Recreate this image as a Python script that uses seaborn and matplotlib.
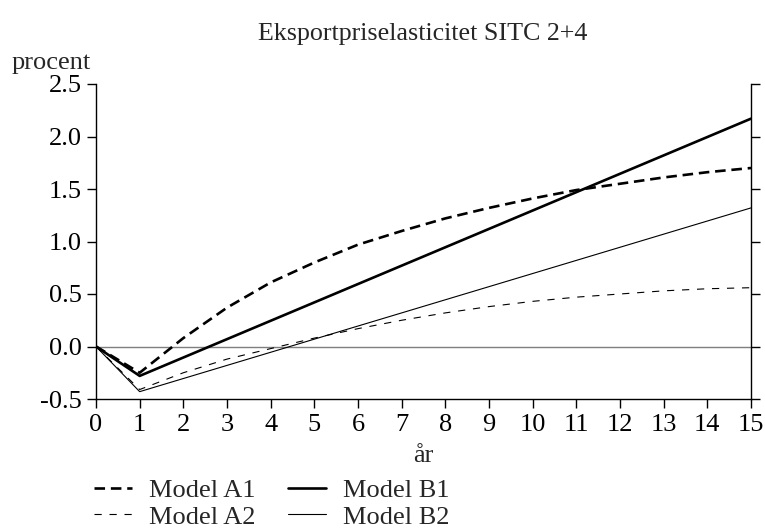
import numpy as np
import pandas as pd
import matplotlib
matplotlib.use("Agg")
import matplotlib.pyplot as plt
import seaborn as sns

# ---- data ----
years = list(range(16))
model_a1 = [0.0, -0.25, 0.08, 0.37, 0.61, 0.80, 0.97, 1.10, 1.22, 1.32, 1.41, 1.49, 1.55, 1.61, 1.66, 1.70]
model_a2 = [0.0, -0.41, -0.25, -0.12, -0.02, 0.08, 0.17, 0.25, 0.32, 0.38, 0.43, 0.47, 0.50, 0.53, 0.55, 0.56]
model_b1 = [0.0, -0.28, -0.105, 0.07, 0.245, 0.42, 0.595, 0.77, 0.945, 1.12, 1.295, 1.47, 1.645, 1.82, 1.995, 2.17]
model_b2 = [0.0, -0.43, -0.305, -0.18, -0.055, 0.07, 0.195, 0.32, 0.445, 0.57, 0.695, 0.82, 0.945, 1.07, 1.195, 1.32]
labels = ["Model A1", "Model A2", "Model B1", "Model B2"]
title = "Eksportpriselasticitet SITC 2+4"
ylabel = "procent"
xlabel = "år"
yticks = [-0.5, 0.0, 0.5, 1.0, 1.5, 2.0, 2.5]
xticks = list(range(16))

sns.set_theme(style="ticks")
plt.rcParams["font.family"] = ["Liberation Serif", "DejaVu Serif"]

FS = 19
W, H = 765, 529
fig = plt.figure(figsize=(W / 100, H / 100), dpi=100)
ax = fig.add_axes([96 / W, 1 - 399 / H, (751 - 96) / W, (399 - 84) / H])

series = [model_a1, model_a2, model_b1, model_b2]
styles = [
    dict(lw=1.9, dashes=(4.0, 2.2)),
    dict(lw=0.8, dashes=(6.5, 7.0)),
    dict(lw=1.9, dashes=None),
    dict(lw=0.8, dashes=None),
]
lines = []
for vals, lab, st in zip(series, labels, styles):
    df = pd.DataFrame({"year": years, "value": vals})
    sns.lineplot(data=df, x="year", y="value", ax=ax, color="black",
                 linewidth=st["lw"], label=lab, legend=False)
    ln = ax.lines[-1]
    if st["dashes"] is not None:
        ln.set_dashes(st["dashes"])
    lines.append(ln)

ax.axhline(0, color="#7f7f7f", lw=1.0, zorder=1)

ax.set_xlim(0, 15)
ax.set_ylim(-0.5, 2.5)
ax.set_xticks(xticks)
ax.set_yticks(yticks)
ax.set_yticklabels([f"{v:.1f}" for v in yticks])
ax.set_xlabel("")
ax.set_ylabel("")

for s in ["left", "bottom", "right"]:
    ax.spines[s].set_visible(True)
    ax.spines[s].set_color("black")
    ax.spines[s].set_linewidth(1.0)
ax.spines["top"].set_visible(False)
ax.tick_params(axis="both", direction="out", length=6.5, width=1.0,
               color="black", labelsize=FS, labelcolor="black")
ax.tick_params(axis="x", pad=4.5)
ax.tick_params(axis="y", pad=3.5, right=True, labelright=False)

fig.text(423 / W, 1 - 34 / H, title, ha="center", va="center", fontsize=18.7)
fig.text(12 / W, 1 - 63 / H, ylabel, ha="left", va="center", fontsize=FS)
fig.text(423 / W, 1 - 456 / H, xlabel, ha="center", va="center", fontsize=FS)

fig.legend(lines, labels,
           ncol=2, frameon=False, loc="upper left",
           bbox_to_anchor=(94 / W, 1 - 479 / H), borderpad=0, borderaxespad=0,
           handlelength=1.45, handletextpad=0.65, columnspacing=1.2,
           labelspacing=0.1, fontsize=FS)

fig.savefig("out.png", dpi=100, facecolor="white")
